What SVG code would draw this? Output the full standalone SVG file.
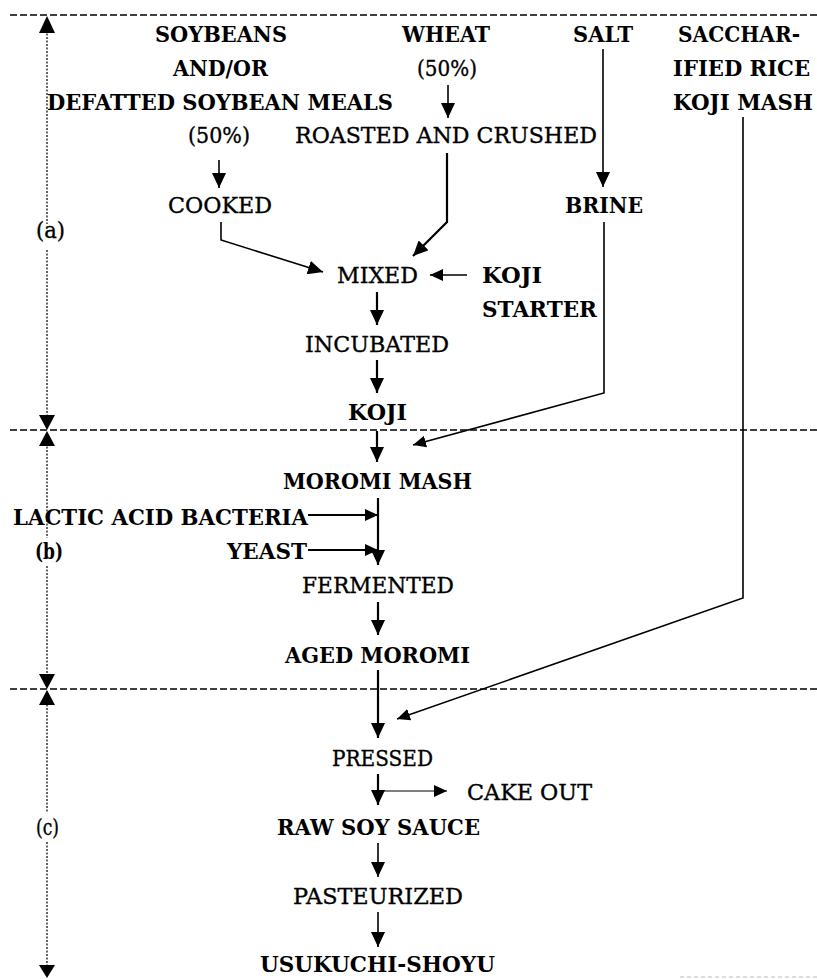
<svg xmlns="http://www.w3.org/2000/svg" width="817" height="979" viewBox="0 0 817 979">
<style>
text{font-family:"DejaVu Serif","Liberation Serif",serif;font-size:22px;fill:#000;stroke:#000;stroke-width:0.35}
.b{font-weight:bold;stroke:none}
.ln{fill:none;stroke:#000;stroke-width:1.6}
.st{fill:none;stroke:#000;stroke-width:2.2}
.th{fill:none;stroke:#000;stroke-width:1.1}
.dash{fill:none;stroke:#000;stroke-width:1.3;stroke-dasharray:7 3}
.axis{fill:none;stroke:#000;stroke-width:1.2;stroke-dasharray:2 1.5}
.ah{fill:#000}
</style>
<defs>
<marker id="arr" markerUnits="userSpaceOnUse" markerWidth="15" markerHeight="14" refX="15" refY="7" orient="auto">
<path d="M0,0 L15,7 L0,14 z" fill="#000"/>
</marker>
<marker id="arrs" markerUnits="userSpaceOnUse" markerWidth="13" markerHeight="12" refX="13" refY="6" orient="auto">
<path d="M0,0 L13,6 L0,12 z" fill="#000"/>
</marker>
</defs>
<rect width="817" height="979" fill="#fff"/>

<g id="dividers">
<line class="dash" x1="10" y1="15" x2="817" y2="15"/>
<line class="dash" x1="10" y1="430" x2="817" y2="430"/>
<line class="dash" x1="10" y1="689" x2="817" y2="689"/>
<line x1="680" y1="977" x2="817" y2="977" stroke="#bbb" stroke-width="1" stroke-dasharray="4 3"/>
</g>

<g id="axis">
<line class="axis" x1="47" y1="30" x2="47" y2="224"/>
<line class="axis" x1="47" y1="250" x2="47" y2="418"/>
<line class="axis" x1="47" y1="443" x2="47" y2="538"/>
<line class="axis" x1="47" y1="566" x2="47" y2="677"/>
<line class="axis" x1="47" y1="701" x2="47" y2="813"/>
<line class="axis" x1="47" y1="842" x2="47" y2="968"/>
<path class="ah" d="M47,16 L39,33 L55,33 z"/>
<path class="ah" d="M47,430 L39,415 L55,415 z"/>
<path class="ah" d="M47,431 L39,446 L55,446 z"/>
<path class="ah" d="M47,689 L39,674 L55,674 z"/>
<path class="ah" d="M47,690 L39,705 L55,705 z"/>
<path class="ah" d="M47,978 L39,965 L55,965 z"/>
</g>

<g id="connectors">
<line class="ln" x1="219" y1="160" x2="219" y2="188" marker-end="url(#arr)"/>
<line class="ln" x1="448" y1="85" x2="448" y2="118" marker-end="url(#arr)"/>
<polyline class="ln" points="221,222 221,240 323,272" marker-end="url(#arr)"/>
<polyline class="st" points="447,153 447,222 413,256" marker-end="url(#arr)"/>
<line class="ln" x1="603" y1="49" x2="603" y2="187" marker-end="url(#arr)"/>
<line class="ln" x1="467" y1="275" x2="430" y2="275" marker-end="url(#arrs)"/>
<polyline class="ln" points="604,222 604,393 413,445" marker-end="url(#arrs)"/>
<polyline class="ln" points="743,117 743,598 397,719" marker-end="url(#arrs)"/>
<line class="st" x1="377" y1="292" x2="377" y2="325" marker-end="url(#arr)"/>
<line class="st" x1="377" y1="360" x2="377" y2="393" marker-end="url(#arr)"/>
<line class="st" x1="377" y1="431" x2="377" y2="462" marker-end="url(#arr)"/>
<line class="st" x1="378" y1="498" x2="378" y2="565" marker-end="url(#arr)"/>
<line class="st" x1="308" y1="515" x2="378" y2="515" marker-end="url(#arrs)"/>
<line class="st" x1="308" y1="550" x2="378" y2="550" marker-end="url(#arrs)"/>
<line class="st" x1="378" y1="602" x2="378" y2="635" marker-end="url(#arr)"/>
<line class="st" x1="378" y1="670" x2="378" y2="738" marker-end="url(#arr)"/>
<line class="st" x1="378" y1="774" x2="378" y2="805" marker-end="url(#arr)"/>
<line class="th" x1="378" y1="791" x2="447" y2="791" marker-end="url(#arrs)"/>
<line class="ln" x1="378" y1="843" x2="378" y2="877" marker-end="url(#arr)"/>
<line class="ln" x1="378" y1="912" x2="378" y2="947" marker-end="url(#arr)"/>
</g>

<g id="label-a"><text x="36" y="238" textLength="29" lengthAdjust="spacingAndGlyphs">(a)</text></g>
<g id="label-b"><text class="b" x="35" y="559" textLength="28" lengthAdjust="spacingAndGlyphs">(b)</text></g>
<g id="label-c"><text x="36" y="835" textLength="23" lengthAdjust="spacingAndGlyphs">(c)</text></g>

<g id="soybeans">
<text class="b" x="155" y="42" textLength="132" lengthAdjust="spacingAndGlyphs">SOYBEANS</text>
<text class="b" x="173" y="76" textLength="95" lengthAdjust="spacingAndGlyphs">AND/OR</text>
<text class="b" x="47" y="110" textLength="346" lengthAdjust="spacingAndGlyphs">DEFATTED SOYBEAN MEALS</text>
<text x="188" y="143" textLength="62" lengthAdjust="spacingAndGlyphs">(50%)</text>
</g>
<g id="cooked"><text x="168" y="213" textLength="104" lengthAdjust="spacingAndGlyphs">COOKED</text></g>
<g id="wheat">
<text class="b" x="402" y="42" textLength="88" lengthAdjust="spacingAndGlyphs">WHEAT</text>
<text x="417" y="76" textLength="60" lengthAdjust="spacingAndGlyphs">(50%)</text>
</g>
<g id="roasted"><text x="295" y="143" textLength="302" lengthAdjust="spacingAndGlyphs">ROASTED AND CRUSHED</text></g>
<g id="salt"><text class="b" x="573" y="42" textLength="60" lengthAdjust="spacingAndGlyphs">SALT</text></g>
<g id="brine"><text class="b" x="565" y="213" textLength="78" lengthAdjust="spacingAndGlyphs">BRINE</text></g>
<g id="rice-koji">
<text class="b" x="678" y="42" textLength="122" lengthAdjust="spacingAndGlyphs">SACCHAR-</text>
<text class="b" x="673" y="76" textLength="137" lengthAdjust="spacingAndGlyphs">IFIED RICE</text>
<text class="b" x="673" y="110" textLength="140" lengthAdjust="spacingAndGlyphs">KOJI MASH</text>
</g>
<g id="mixed"><text x="337" y="283" textLength="81" lengthAdjust="spacingAndGlyphs">MIXED</text></g>
<g id="koji-starter">
<text class="b" x="482" y="283" textLength="60" lengthAdjust="spacingAndGlyphs">KOJI</text>
<text class="b" x="482" y="317" textLength="115" lengthAdjust="spacingAndGlyphs">STARTER</text>
</g>
<g id="incubated"><text x="305" y="352" textLength="144" lengthAdjust="spacingAndGlyphs">INCUBATED</text></g>
<g id="koji"><text class="b" x="348" y="420" textLength="59" lengthAdjust="spacingAndGlyphs">KOJI</text></g>
<g id="moromi-mash"><text class="b" x="283" y="489" textLength="189" lengthAdjust="spacingAndGlyphs">MOROMI MASH</text></g>
<g id="lactic"><text class="b" x="13" y="525" textLength="295" lengthAdjust="spacingAndGlyphs">LACTIC ACID BACTERIA</text></g>
<g id="yeast"><text class="b" x="227" y="559" textLength="80" lengthAdjust="spacingAndGlyphs">YEAST</text></g>
<g id="fermented"><text x="302" y="593" textLength="152" lengthAdjust="spacingAndGlyphs">FERMENTED</text></g>
<g id="aged-moromi"><text class="b" x="285" y="663" textLength="185" lengthAdjust="spacingAndGlyphs">AGED MOROMI</text></g>
<g id="pressed"><text x="332" y="766" textLength="101" lengthAdjust="spacingAndGlyphs">PRESSED</text></g>
<g id="cake-out"><text x="467" y="800" textLength="125" lengthAdjust="spacingAndGlyphs">CAKE OUT</text></g>
<g id="raw-soy-sauce"><text class="b" x="277" y="835" textLength="203" lengthAdjust="spacingAndGlyphs">RAW SOY SAUCE</text></g>
<g id="pasteurized"><text x="293" y="904" textLength="170" lengthAdjust="spacingAndGlyphs">PASTEURIZED</text></g>
<g id="usukuchi"><text class="b" x="260" y="972" textLength="235" lengthAdjust="spacingAndGlyphs">USUKUCHI-SHOYU</text></g>
</svg>
